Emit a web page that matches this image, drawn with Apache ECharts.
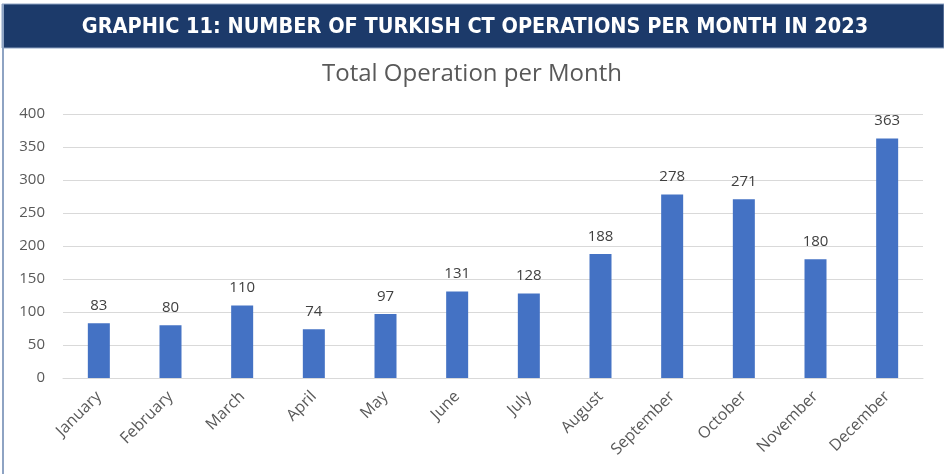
<!DOCTYPE html>
<html>
<head>
<meta charset="utf-8">
<script src="https://cdn.jsdelivr.net/npm/echarts@6/dist/echarts.min.js"></script>
<style>
  html, body { margin: 0; padding: 0; background: #fff; }
  #chart { width: 944px; height: 474px; }
</style>
</head>
<body>
<div id="chart"></div>
<script>
const months = ['January', 'February', 'March', 'April', 'May', 'June',
  'July', 'August', 'September', 'October', 'November', 'December'];
const operations = [83, 80, 110, 74, 97, 131, 128, 188, 278, 271, 180, 363];
const yTicks = { min: 0, max: 400, interval: 50 };

const headerText = 'GRAPHIC 11: NUMBER OF TURKISH CT OPERATIONS PER MONTH IN 2023';
const chartTitle = 'Total Operation per Month';

const chart = echarts.init(document.getElementById('chart'));

chart.setOption({
  backgroundColor: '#ffffff',
  animation: false,
  graphic: [
    // header band and the card's left edge
    {
      type: 'rect',
      shape: { x: 2, y: 4, width: 942, height: 44 },
      style: { fill: '#1c3a6a', stroke: '#8ea3c3', lineWidth: 1 },
      silent: true
    },
    {
      type: 'line',
      shape: { x1: 3, y1: 4, x2: 3, y2: 474 },
      style: { stroke: '#8ea3c3', lineWidth: 2 },
      silent: true
    },
    {
      type: 'text',
      x: 475,
      y: 27,
      style: {
        text: headerText,
        fill: '#ffffff',
        font: 'bold 21.5px "Liberation Sans Narrow", "DejaVu Sans Condensed", sans-serif',
        align: 'center',
        verticalAlign: 'middle'
      }
    }
  ],
  title: {
    text: chartTitle,
    left: 'center',
    top: 57,
    textStyle: {
      fontFamily: '"Open Sans", sans-serif',
      fontSize: 24,
      fontWeight: 'normal',
      color: '#595959'
    }
  },
  grid: {
    left: 63,
    right: 21,
    top: 114,
    bottom: 96,
    containLabel: false
  },
  xAxis: {
    type: 'category',
    data: months,
    axisLine: { lineStyle: { color: '#d9d9d9', width: 1 } },
    axisTick: { show: false },
    axisLabel: {
      rotate: 45,
      margin: 16,
      color: '#595959',
      fontFamily: '"Open Sans", sans-serif',
      fontSize: 16
    }
  },
  yAxis: {
    type: 'value',
    min: yTicks.min,
    max: yTicks.max,
    interval: yTicks.interval,
    axisLine: { show: false },
    axisTick: { show: false },
    splitLine: { lineStyle: { color: '#d9d9d9', width: 1 } },
    axisLabel: {
      margin: 18,
      color: '#595959',
      fontFamily: '"Open Sans", sans-serif',
      fontSize: 15
    }
  },
  series: [
    {
      type: 'bar',
      data: operations,
      barWidth: 22,
      itemStyle: { color: '#4472c4' },
      label: {
        show: true,
        position: 'top',
        distance: 10,
        color: '#404040',
        fontFamily: '"Open Sans", sans-serif',
        fontSize: 15
      }
    }
  ]
});
</script>
</body>
</html>
